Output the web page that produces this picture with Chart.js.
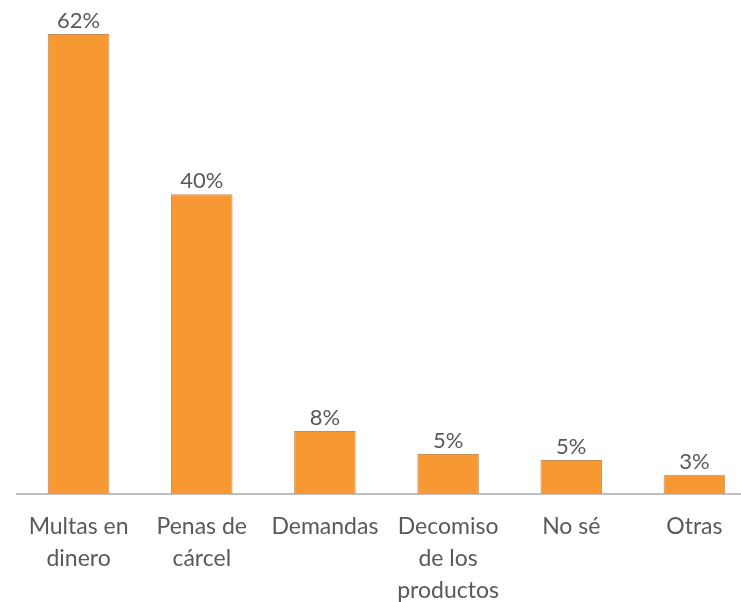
<!DOCTYPE html>
<html>
<head>
<meta charset="utf-8">
<script src="https://cdn.jsdelivr.net/npm/chart.js@4/dist/chart.umd.min.js"></script>
<style>
  html, body { margin: 0; padding: 0; background: #fff; overflow: hidden; }
  #wrap { position: absolute; left: 0; top: 0; width: 756px; height: 602px; }
</style>
</head>
<body>
<div id="wrap"><canvas id="chart"></canvas></div>
<script>
const categories = [
  ['Multas en', 'dinero'],
  ['Penas de', 'cárcel'],
  'Demandas',
  ['Decomiso', 'de los', 'productos'],
  'No sé',
  'Otras'
]
const values = [62, 40.4, 8.5, 5.4, 4.6, 2.6]
const valueLabels = ['62%', '40%', '8%', '5%', '5%', '3%']

const fontFamily = 'Lato, "Open Sans", sans-serif'

const valueText = {
  id: 'valueText',
  afterDatasetsDraw(chart) {
    const { ctx } = chart
    const meta = chart.getDatasetMeta(0)
    ctx.save()
    ctx.font = '22px ' + fontFamily
    ctx.fillStyle = '#595959'
    ctx.textAlign = 'center'
    ctx.textBaseline = 'bottom'
    meta.data.forEach((bar, i) => {
      ctx.fillText(valueLabels[i], bar.x, bar.y - 2)
    })
    ctx.restore()
  }
}

new Chart(document.getElementById('chart'), {
  type: 'bar',
  data: {
    labels: categories,
    datasets: [{
      data: values,
      backgroundColor: '#F79833',
      borderColor: '#C98D55',
      borderWidth: 1,
      categoryPercentage: 1,
      barPercentage: 0.5
    }]
  },
  plugins: [valueText],
  options: {
    responsive: true,
    maintainAspectRatio: false,
    animation: false,
    layout: { padding: { top: 34, left: 17, right: 0, bottom: -22 } },
    plugins: {
      legend: { display: false },
      tooltip: { enabled: false }
    },
    scales: {
      x: {
        grid: { display: false, drawTicks: false },
        border: { color: '#BFBFBF', width: 2 },
        ticks: {
          color: '#595959',
          font: { family: fontFamily, size: 23, lineHeight: 1.39 },
          padding: 17,
          maxRotation: 0,
          autoSkip: false
        }
      },
      y: {
        display: false,
        min: 0,
        max: 62
      }
    }
  }
})
</script>
</body>
</html>
